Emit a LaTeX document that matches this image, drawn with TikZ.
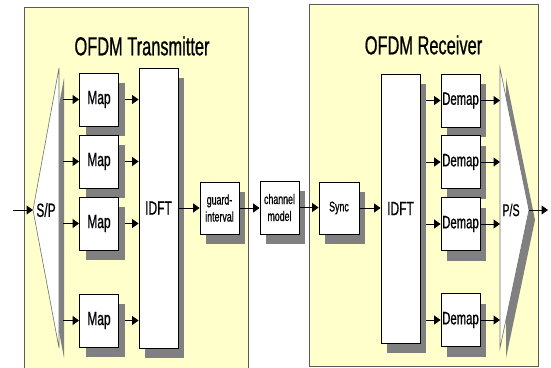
\documentclass[tikz,border=0pt]{standalone}
\usepackage{fontspec}
\newfontfamily\narrowsf[FakeStretch=0.63,FakeBold=0.7]{Liberation Sans}
\usetikzlibrary{arrows.meta,shadows}
\definecolor{panelyellow}{HTML}{FFFFCC}
\definecolor{panelline}{HTML}{5A5A5A}
\definecolor{shadowgray}{HTML}{808080}
\definecolor{wedgeline}{HTML}{707070}
\tikzset{
  >={Triangle[length=6.5pt,width=9pt]},
  panel/.style={draw=panelline, line width=0.9pt, fill=panelyellow},
  paneltitle/.style={font=\narrowsf\fontsize{26}{30}\selectfont, inner sep=0pt},
  block/.style={
    rectangle, draw=black, line width=0.8pt, fill=white,
    minimum width=39pt, minimum height=53pt, inner sep=0pt, align=center,
    general shadow={fill=shadowgray, shadow xshift=6pt, shadow yshift=-10pt}
  },
  bigtext/.style={font=\narrowsf\fontsize{19}{22}\selectfont},
  midtext/.style={font=\narrowsf\fontsize{18}{21}\selectfont},
  smalltext/.style={font=\narrowsf\fontsize{14}{17}\selectfont},
  arrow/.style={->, line width=1pt, draw=black},
  wedge/.style={fill=white, draw=wedgeline, line width=0.6pt}
}

\begin{document}
\begin{tikzpicture}[x=1pt,y=-1pt]
\useasboundingbox (0,0) rectangle (551,367);
\fill[white] (0,0) rectangle (551,367);
% panels
\draw[panel] (24,7) rectangle (248,372);
\draw[panel] (309,4) rectangle (538,366);
\node[paneltitle] (txtitle) at (142,46) {OFDM Transmitter};
\node[paneltitle] (rxtitle) at (423.5,45) {OFDM Receiver};
% serial to parallel wedge
\fill[shadowgray] (64,78) -- (38,220) -- (64,358) -- cycle;
\draw[wedge] (59,68) -- (33,210) -- (59,348) -- cycle;
\coordinate (spin) at (33,210);
\coordinate (spout) at (63,210);
\node[bigtext] (sp) at (46,210) {S/P};
% transmitter blocks
\node[block, bigtext] (map1) at (99,99.5) {Map};
\node[block, bigtext] (map2) at (99,161.5) {Map};
\node[block, bigtext] (map3) at (99,223.5) {Map};
\node[block, bigtext] (map4) at (99,320.5) {Map};
\node[block, bigtext, minimum height=280pt] (idfttx) at (158.5,208) {IDFT};
\node[block, smalltext, minimum height=52pt] (guard) at (219.5,208) {guard-\\interval};
\node[block, smalltext] (channel) at (279.5,207.5) {channel\\model};
% receiver blocks
\node[block, smalltext, minimum width=40pt, minimum height=52pt] (sync) at (339,208) {Sync};
\node[block, bigtext, minimum height=269pt] (idftrx) at (400.5,208.5) {IDFT};
\node[block, midtext] (demap1) at (460.5,100.5) {Demap};
\node[block, midtext] (demap2) at (460.5,162) {Demap};
\node[block, midtext] (demap3) at (460.5,224) {Demap};
\node[block, midtext] (demap4) at (460.5,320) {Demap};
% parallel to serial wedge
\fill[shadowgray] (506,78) -- (535,220) -- (506,358) -- cycle;
\draw[wedge] (500,68) -- (529,210) -- (500,348) -- cycle;
\coordinate (psin) at (500,210);
\coordinate (psout) at (529,210);
\node[font=\narrowsf\fontsize{17}{20}\selectfont] (ps) at (511,210) {P/S};
\coordinate (source) at (13,210);
\coordinate (sink) at (548,210);
% connectors
\draw[arrow] (source) -- (spin);
\draw[arrow] (spout |- map1.west) -- (map1.west);
\draw[arrow] (spout |- map2.west) -- (map2.west);
\draw[arrow] (spout |- map3.west) -- (map3.west);
\draw[arrow] (spout |- map4.west) -- (map4.west);
\draw[arrow, shorten <=6pt] (map1.east) -- (map1.east -| idfttx.west);
\draw[arrow, shorten <=6pt] (map2.east) -- (map2.east -| idfttx.west);
\draw[arrow, shorten <=6pt] (map3.east) -- (map3.east -| idfttx.west);
\draw[arrow, shorten <=6pt] (map4.east) -- (map4.east -| idfttx.west);
\draw[arrow] (idfttx.east |- guard.west) -- (guard.west);
\draw[arrow] (guard.east) -- (guard.east -| channel.west);
\draw[arrow] (channel.east) -- (channel.east -| sync.west);
\draw[arrow] (sync.east) -- (sync.east -| idftrx.west);
\draw[arrow, shorten <=6pt] (idftrx.east |- demap1.west) -- (demap1.west);
\draw[arrow, shorten <=6pt] (idftrx.east |- demap2.west) -- (demap2.west);
\draw[arrow, shorten <=6pt] (idftrx.east |- demap3.west) -- (demap3.west);
\draw[arrow, shorten <=6pt] (idftrx.east |- demap4.west) -- (demap4.west);
\draw[arrow] (demap1.east) -- (demap1.east -| psin);
\draw[arrow] (demap2.east) -- (demap2.east -| psin);
\draw[arrow] (demap3.east) -- (demap3.east -| psin);
\draw[arrow] (demap4.east) -- (demap4.east -| psin);
\draw[arrow] (psout) -- (sink);
\end{tikzpicture}
\end{document}
